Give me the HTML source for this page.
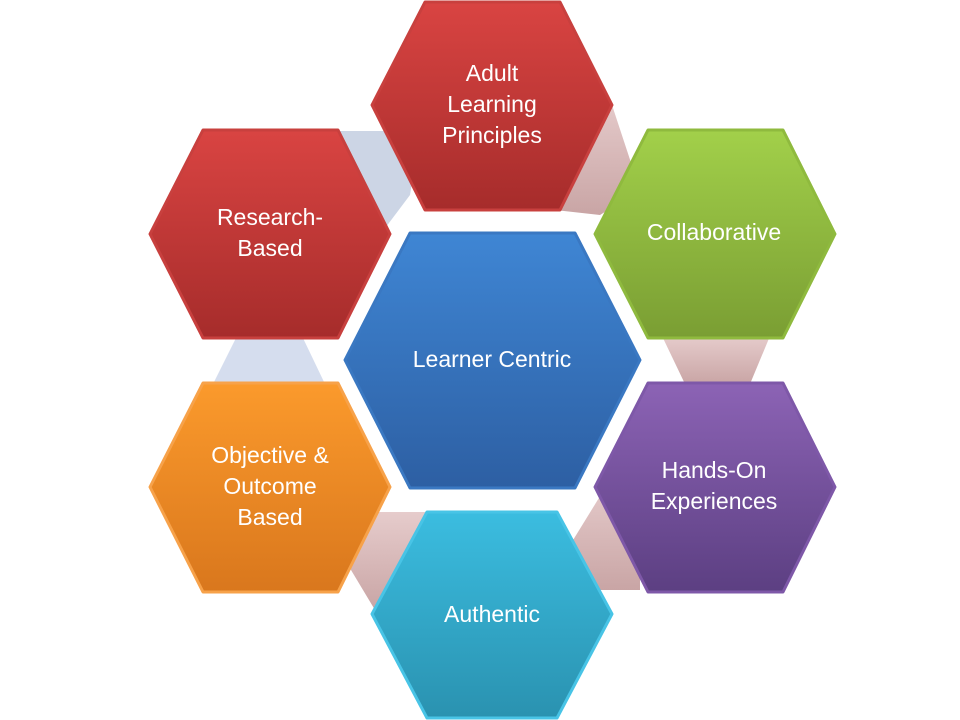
<!DOCTYPE html>
<html><head><meta charset="utf-8"><style>
html,body{margin:0;padding:0;background:#fff;width:960px;height:720px;overflow:hidden}
text{font-family:"Liberation Sans",sans-serif;fill:#fff;font-size:23px;text-anchor:middle}
</style></head><body>
<svg width="960" height="720" viewBox="0 0 960 720" xmlns="http://www.w3.org/2000/svg">
<defs>
<linearGradient id="red" x1="0" y1="0" x2="0" y2="1"><stop offset="0" stop-color="#d94442"/><stop offset="1" stop-color="#a62c2b"/></linearGradient>
<linearGradient id="green" x1="0" y1="0" x2="0" y2="1"><stop offset="0" stop-color="#a2d04a"/><stop offset="1" stop-color="#7a9e33"/></linearGradient>
<linearGradient id="blue" x1="0" y1="0" x2="0" y2="1"><stop offset="0" stop-color="#3f86d4"/><stop offset="1" stop-color="#2d5fa3"/></linearGradient>
<linearGradient id="orange" x1="0" y1="0" x2="0" y2="1"><stop offset="0" stop-color="#fb9a2c"/><stop offset="1" stop-color="#d9771d"/></linearGradient>
<linearGradient id="purple" x1="0" y1="0" x2="0" y2="1"><stop offset="0" stop-color="#8c63b5"/><stop offset="1" stop-color="#5c3f82"/></linearGradient>
<linearGradient id="cyan" x1="0" y1="0" x2="0" y2="1"><stop offset="0" stop-color="#3bbde0"/><stop offset="1" stop-color="#2a92b0"/></linearGradient>
<linearGradient id="pink" x1="0" y1="0" x2="0" y2="1"><stop offset="0" stop-color="#e6cccc"/><stop offset="1" stop-color="#c9a5a5"/></linearGradient>
</defs>
<!-- connectors -->
<polygon points="325,131 420,131 410,195 380,235 345,215" fill="#ccd5e5"/>
<polygon points="237,336 302,336 325,384 213,384" fill="#d5ddee"/>
<polygon points="580,95 612,105 640,190 600,215 555,210" fill="url(#pink)"/>
<polygon points="662,336 770,336 750,384 685,384" fill="url(#pink)"/>
<polygon points="610,480 640,490 640,590 590,590 570,545" fill="url(#pink)"/>
<polygon points="350,512 430,512 400,610 375,610 345,560" fill="url(#pink)"/>
<!-- hexagons -->
<g stroke-width="3" stroke-linejoin="round">
<polygon points="372,105 425,2 560,2 612,105 560,210 425,210" fill="url(#red)" stroke="#c8403e"/>
<polygon points="150,234 203,130 338,130 390,234 338,338 203,338" fill="url(#red)" stroke="#c8403e"/>
<polygon points="595,234 648,130 783,130 835,234 783,338 648,338" fill="url(#green)" stroke="#8fba3e"/>
<polygon points="345,360 410,233 575,233 640,360 575,488 410,488" fill="url(#blue)" stroke="#3a78c2"/>
<polygon points="150,487 203,383 338,383 390,487 338,592 203,592" fill="url(#orange)" stroke="#f7a24a"/>
<polygon points="595,487 648,383 783,383 835,487 783,592 648,592" fill="url(#purple)" stroke="#7e58a8"/>
<polygon points="372,614 427,512 557,512 612,614 557,718 427,718" fill="url(#cyan)" stroke="#48c4e6"/>
</g>
<text x="492" y="81">Adult</text>
<text x="492" y="112">Learning</text>
<text x="492" y="143">Principles</text>
<text x="270" y="225">Research-</text>
<text x="270" y="256">Based</text>
<text x="714" y="240">Collaborative</text>
<text x="492" y="367">Learner Centric</text>
<text x="270" y="463">Objective &amp;</text>
<text x="270" y="494">Outcome</text>
<text x="270" y="525">Based</text>
<text x="714" y="478">Hands-On</text>
<text x="714" y="509">Experiences</text>
<text x="492" y="622">Authentic</text>
</svg>
</body></html>
